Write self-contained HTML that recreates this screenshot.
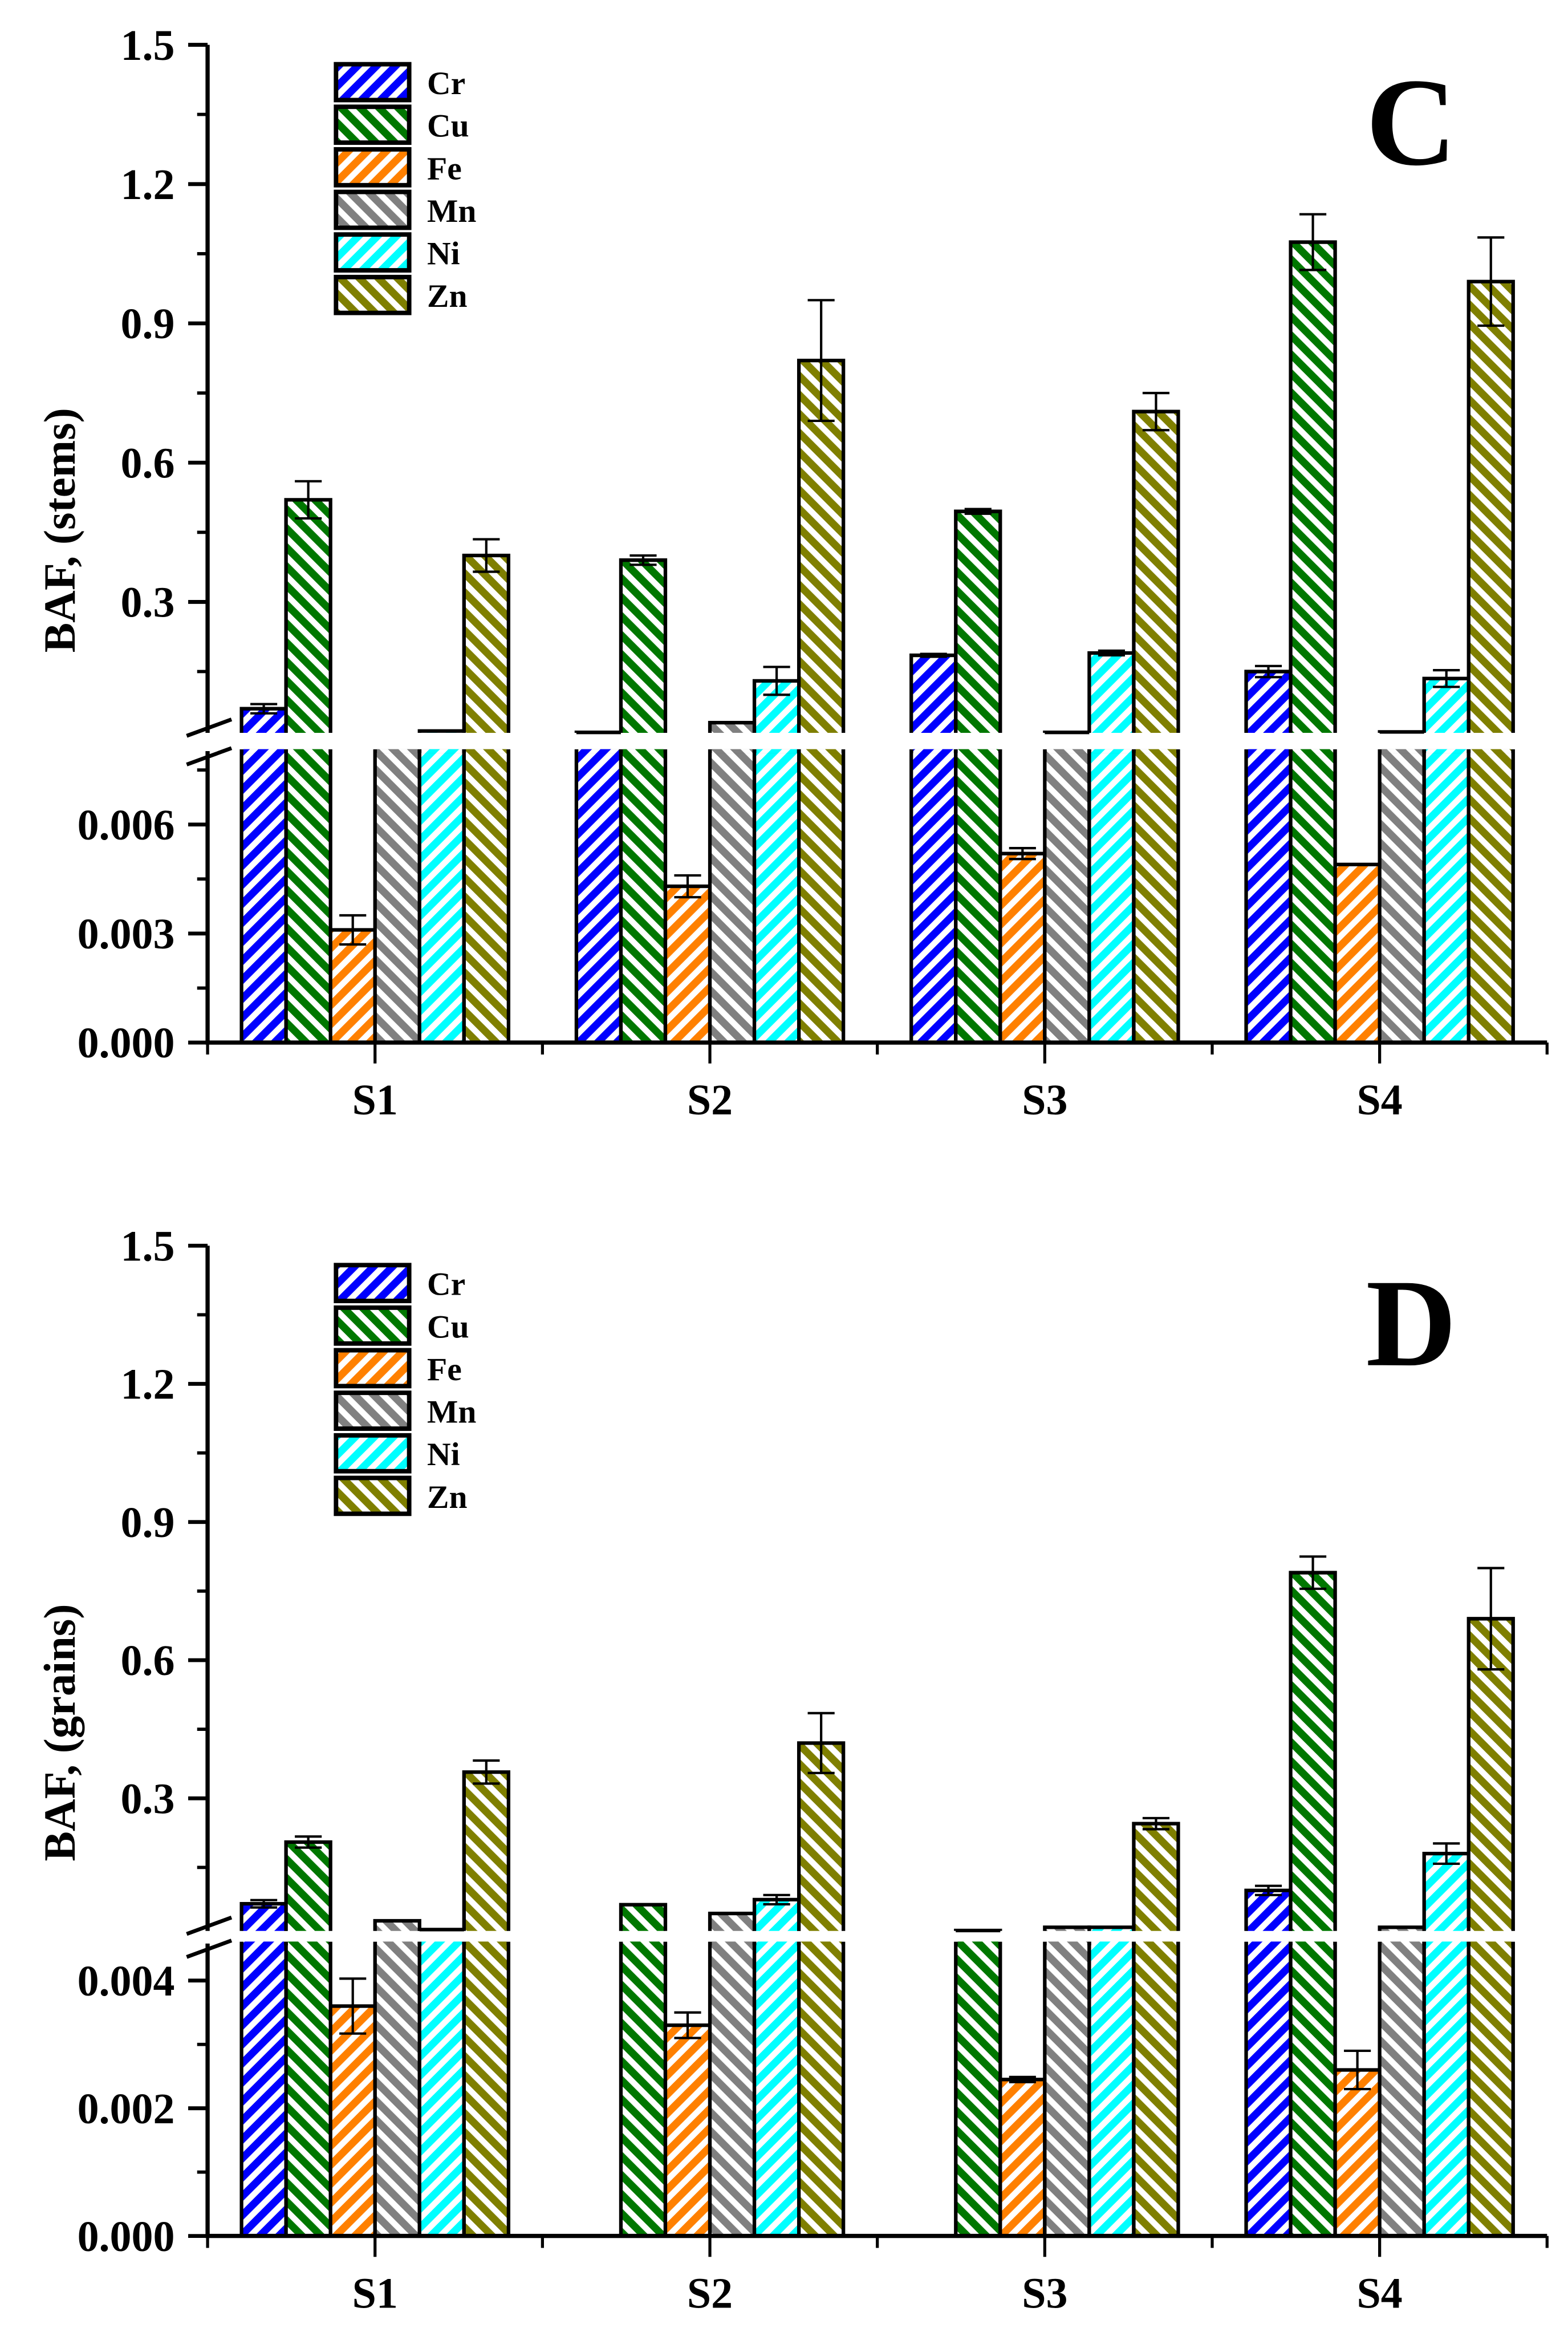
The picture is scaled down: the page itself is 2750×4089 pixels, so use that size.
<!DOCTYPE html>
<html><head><meta charset="utf-8"><style>
html,body{margin:0;padding:0;background:#fff;}
svg{display:block;}
text{font-family:"Liberation Serif",serif;font-weight:bold;fill:#000;}
</style></head><body>
<svg id="chart" width="2750" height="4089" viewBox="0 0 1050 1561.3" xmlns="http://www.w3.org/2000/svg">
<defs id="defs"></defs>
</svg>
<script>
const groups = ["S1","S2","S3","S4"];
const metals = ["Cr","Cu","Fe","Mn","Ni","Zn"];
const colors = ["#0000ff","#007700","#ff8000","#808080","#00ffff","#7f7f00"];
// Stems (panel C) values per metal, across S1..S4
const stemsCr = [0.07, 0.019, 0.185, 0.15];
const stemsCu = [0.52, 0.39, 0.495, 1.075];
const stemsFe = [0.0031, 0.0043, 0.0052, 0.0049];
const stemsMn = [0.012, 0.04, 0.019, 0.02];
const stemsNi = [0.022, 0.13, 0.19, 0.135];
const stemsZn = [0.40, 0.82, 0.71, 0.99];
const stemsErrCr = [0.01, 0, 0.003, 0.012];
const stemsErrCu = [0.04, 0.01, 0.005, 0.06];
const stemsErrFe = [0.0004, 0.0003, 0.00015, 0];
const stemsErrMn = [0, 0, 0, 0];
const stemsErrNi = [0, 0.03, 0.005, 0.018];
const stemsErrZn = [0.035, 0.13, 0.04, 0.095];
// Grains (panel D)
const grainsCr = [0.071, 0, 0, 0.10];
const grainsCu = [0.205, 0.069, 0.013, 0.79];
const grainsFe = [0.0036, 0.0033, 0.00245, 0.0026];
const grainsMn = [0.034, 0.05, 0.02, 0.02];
const grainsNi = [0.015, 0.08, 0.02, 0.18];
const grainsZn = [0.357, 0.42, 0.245, 0.69];
const grainsErrCr = [0.008, 0, 0, 0.01];
const grainsErrCu = [0.012, 0, 0, 0.035];
const grainsErrFe = [0.00043, 0.0002, 0.00004, 0.0003];
const grainsErrMn = [0, 0, 0, 0];
const grainsErrNi = [0, 0.01, 0, 0.022];
const grainsErrZn = [0.025, 0.065, 0.012, 0.11];
const upperTicks = [0.3, 0.6, 0.9, 1.2, 1.5];
const upperTickLabels = ["0.3","0.6","0.9","1.2","1.5"];
const stemsLowerTicks = [0, 0.003, 0.006];
const stemsLowerLabels = ["0.000","0.003","0.006"];
const grainsLowerTicks = [0, 0.002, 0.004];
const grainsLowerLabels = ["0.000","0.002","0.004"];

const NS = "http://www.w3.org/2000/svg";
const svg = document.getElementById("chart");
const defs = document.getElementById("defs");
function mk(tag, attrs, parent){
  const e = document.createElementNS(NS, tag);
  for (const k in attrs) e.setAttribute(k, attrs[k]);
  (parent||svg).appendChild(e);
  return e;
}
metals.forEach((m,i)=>{
  const p = mk("pattern",{id:"hatch-"+m,patternUnits:"userSpaceOnUse",width:9,height:9,patternTransform:"rotate("+(i%2===0?45:-45)+")"},defs);
  mk("rect",{x:0,y:0,width:9,height:9,fill:"#fff"},p);
  mk("rect",{x:0,y:0,width:5,height:9,fill:colors[i]},p);
});

const X0 = 139, X1 = 1036, BW = 29.8;
function xc(g){ return X0 + (g+0.5)*(X1-X0)/4; }

function panel(cfg){
  const P = cfg.prefix;
  const yU = v => cfg.u03 + (0.3 - v)*(cfg.u03 - cfg.u15)/1.2;
  const yL = v => cfg.l0 - v*cfg.lScale;
  const upperBottom = yU(cfg.upperMin);
  const lowerTop = yL(cfg.lowerMax);
  const series = cfg.values, errs = cfg.errs;
  metals.forEach((m,mi)=>{
    groups.forEach((g,gi)=>{
      const v = series[mi][gi], e = errs[mi][gi];
      const x = xc(gi) - 3*BW + mi*BW;
      if (v > 0){
        const top = v >= cfg.lowerMax ? lowerTop : yL(v);
        const r = mk("rect",{x:x,y:top,width:BW,height:cfg.l0-top,fill:"url(#hatch-"+m+")",stroke:"#000","stroke-width":2.4});
        
        
        if (v >= cfg.lowerMax){
          mk("line",{x1:x+1.3,x2:x+BW-1.3,y1:top,y2:top,stroke:"url(#hatch-"+m+")","stroke-width":2.6});
        }
      }
      if (v > cfg.upperMin){
        const top = yU(v);
        const r = mk("path",{d:"M"+x+","+upperBottom+"V"+top+"H"+(x+BW)+"V"+upperBottom+"Z",fill:"url(#hatch-"+m+")",stroke:"none"});
        
        
        mk("path",{d:"M"+x+","+upperBottom+"V"+top+"H"+(x+BW)+"V"+upperBottom,fill:"none",stroke:"#000","stroke-width":2.4});
      }
      if (e > 0){
        const yf = v > cfg.upperMin ? yU : yL;
        const eb = mk("path",{d:"M"+(x+BW/2)+","+yf(v-e)+"V"+yf(v+e)+"M"+(x+BW/2-9)+","+yf(v-e)+"h18M"+(x+BW/2-9)+","+yf(v+e)+"h18",stroke:"#000","stroke-width":1.6,fill:"none"});
        
        
      }
    });
  });
  const ax = mk("path",{d:"M"+X0+","+cfg.u15+"V"+upperBottom+"M"+X0+","+lowerTop+"V"+cfg.l0,stroke:"#000","stroke-width":2.8,fill:"none"});
  
  
  const br = mk("path",{d:"M"+(X0-14)+","+(upperBottom+2)+"L"+(X0+16)+","+(upperBottom-9)+"M"+(X0-14)+","+(lowerTop+9)+"L"+(X0+16)+","+(lowerTop-2),stroke:"#000","stroke-width":2.6,fill:"none"});
  
  
  upperTicks.forEach((t,i)=>{
    const y = yU(t);
    mk("line",{x1:X0-13,x2:X0,y1:y,y2:y,stroke:"#000","stroke-width":2.6});
    const ym = yU(t-0.15);
    if (ym < upperBottom) mk("line",{x1:X0-7,x2:X0,y1:ym,y2:ym,stroke:"#000","stroke-width":2.2});
    const tl = mk("text",{x:X0-22,y:y+10,"text-anchor":"end","font-size":29});
    tl.textContent = upperTickLabels[i];
    
    
  });
  cfg.lTicks.forEach((t,i)=>{
    const y = yL(t);
    mk("line",{x1:X0-13,x2:X0,y1:y,y2:y,stroke:"#000","stroke-width":2.6});
    const half = (cfg.lTicks[1]-cfg.lTicks[0])/2;
    const ym = yL(t+half);
    if (ym > lowerTop) mk("line",{x1:X0-7,x2:X0,y1:ym,y2:ym,stroke:"#000","stroke-width":2.2});
    const tl = mk("text",{x:X0-22,y:y+10,"text-anchor":"end","font-size":29});
    tl.textContent = cfg.lLabels[i];
    
    
  });
  const xa = mk("line",{x1:X0-1.4,x2:X1,y1:cfg.l0,y2:cfg.l0,stroke:"#000","stroke-width":2.8});
  
  
  for (let k=0;k<=4;k++){
    const x = X0 + k*(X1-X0)/4;
    mk("line",{x1:x,x2:x,y1:cfg.l0,y2:cfg.l0+8,stroke:"#000","stroke-width":2});
  }
  groups.forEach((g,gi)=>{
    mk("line",{x1:xc(gi),x2:xc(gi),y1:cfg.l0,y2:cfg.l0+14,stroke:"#000","stroke-width":2});
    const t = mk("text",{x:xc(gi),y:cfg.l0+48,"text-anchor":"middle","font-size":29});
    t.textContent = g;
    
    
  });
  const yt = mk("text",{x:0,y:0,"text-anchor":"middle","font-size":30,transform:"translate(50,"+cfg.titleY+") rotate(-90)"});
  yt.textContent = cfg.title;
  
  
  const pl = mk("text",{x:945,y:cfg.u15+80,"text-anchor":"middle","font-size":84});
  pl.textContent = cfg.letter;
  
  
  metals.forEach((m,mi)=>{
    const y = cfg.u15 + 13 + mi*28.5;
    const g = mk("g",{});
    
    
    mk("rect",{x:225,y:y,width:49,height:24,fill:"url(#hatch-"+m+")",stroke:"#000","stroke-width":3},g);
    const t = mk("text",{x:286,y:y+20,"font-size":22},g);
    t.textContent = m;
  });
}

panel({prefix:"stems",letter:"C",title:"BAF, (stems)",titleY:355,
  u15:30,u03:403,upperMin:0.018,l0:698,lScale:24.33/0.001,lowerMax:0.00802,
  lTicks:stemsLowerTicks,lLabels:stemsLowerLabels,
  values:[stemsCr,stemsCu,stemsFe,stemsMn,stemsNi,stemsZn],
  errs:[stemsErrCr,stemsErrCu,stemsErrFe,stemsErrMn,stemsErrNi,stemsErrZn]});
panel({prefix:"grains",letter:"D",title:"BAF, (grains)",titleY:1160,
  u15:834,u03:1204,upperMin:0.012,l0:1497,lScale:42.75/0.001,lowerMax:0.00458,
  lTicks:grainsLowerTicks,lLabels:grainsLowerLabels,
  values:[grainsCr,grainsCu,grainsFe,grainsMn,grainsNi,grainsZn],
  errs:[grainsErrCr,grainsErrCu,grainsErrFe,grainsErrMn,grainsErrNi,grainsErrZn]});
</script>
</body></html>
